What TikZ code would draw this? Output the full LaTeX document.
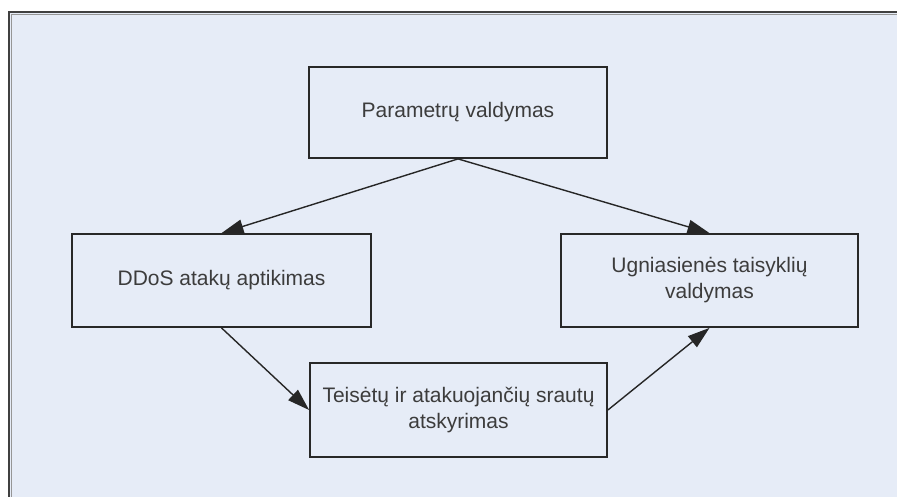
\documentclass[tikz,border=0pt]{standalone}
\usepackage{fontspec}
\setmainfont{Liberation Sans}
\usetikzlibrary{arrows.meta}
\definecolor{panel}{RGB}{230,236,247}
\definecolor{framedark}{RGB}{64,64,64}
\definecolor{framelight}{RGB}{150,150,150}
\definecolor{boxline}{RGB}{40,40,40}
\definecolor{labeltext}{RGB}{60,60,60}
\tikzset{
  stagebox/.style={draw=boxline, line width=1.8pt, rectangle, inner sep=0pt,
    font=\fontsize{21}{26}\selectfont, text=labeltext, align=center},
  flowarrow/.style={draw=black!85, line width=1.4pt,
    -{Triangle[length=22pt,width=14pt]}, shorten >=0pt},
}
\begin{document}
\begin{tikzpicture}[x=1pt,y=-1pt]
\useasboundingbox (0,0) rectangle (897,497);
% page background and panel with its frame
\fill[white] (0,0) rectangle (897,497);
\fill[panel] (9,12) rectangle (897,497);
\draw[framelight, line width=1.6pt] (11.4,497) -- (11.4,14.4) -- (897,14.4);
\draw[framedark, line width=2.4pt] (9.2,497) -- (9.2,12.2) -- (897,12.2);

% process stages
\node[stagebox, minimum width=298pt, minimum height=91pt] (param) at (458,112.5) {Parametrų valdymas};
\node[stagebox, minimum width=299pt, minimum height=93pt] (detect) at (221.5,280.5) {DDoS atakų aptikimas};
\node[stagebox, minimum width=297pt, minimum height=93pt] (fw) at (709.5,280.5) {Ugniasienės taisyklių\\valdymas};
\node[stagebox, minimum width=297pt, minimum height=94pt] (split) at (458.5,410) {Teisėtų ir atakuojančių srautų\\atskyrimas};

% flow between stages
\draw[flowarrow] (param.south) -- (detect.north);
\draw[flowarrow] (param.south) -- (fw.north);
\draw[flowarrow] (detect.south) -- (split.west);
\draw[flowarrow] (split.east) -- (fw.south);
\end{tikzpicture}
\end{document}
